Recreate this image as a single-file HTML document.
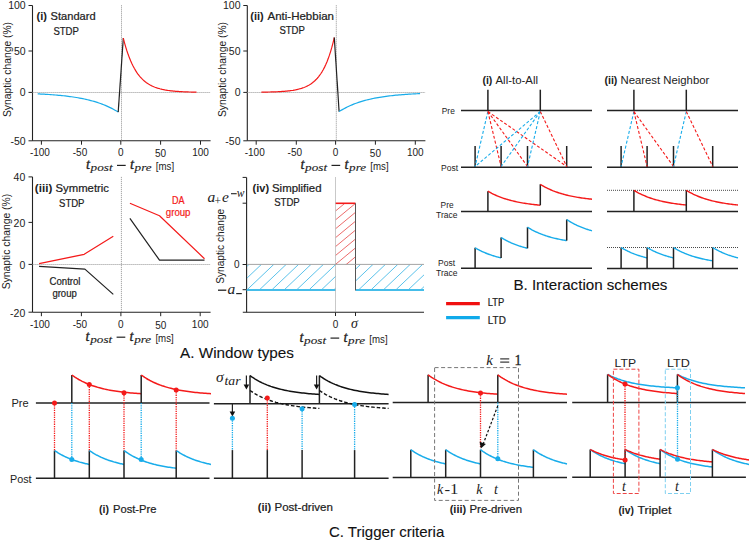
<!DOCTYPE html><html><head><meta charset="utf-8"><style>html,body{margin:0;padding:0;background:#fff;overflow:hidden}svg{display:block}</style></head><body><svg width="749" height="542" viewBox="0 0 749 542"><rect width="749" height="542" fill="#fff"/><line x1="32.50" y1="5.50" x2="32.50" y2="140.80" stroke="#222" stroke-width="1.1" />
<line x1="28.50" y1="5.50" x2="32.50" y2="5.50" stroke="#222" stroke-width="1.0" />
<text x="25.70" y="9.40" font-family='"Liberation Sans", sans-serif' font-size="10.5" font-weight="normal" font-style="normal" text-anchor="end" fill="#222" >100</text>
<line x1="28.50" y1="51.00" x2="32.50" y2="51.00" stroke="#222" stroke-width="1.0" />
<text x="25.70" y="54.90" font-family='"Liberation Sans", sans-serif' font-size="10.5" font-weight="normal" font-style="normal" text-anchor="end" fill="#222" >50</text>
<line x1="28.50" y1="92.40" x2="32.50" y2="92.40" stroke="#222" stroke-width="1.0" />
<text x="25.70" y="96.30" font-family='"Liberation Sans", sans-serif' font-size="10.5" font-weight="normal" font-style="normal" text-anchor="end" fill="#222" >0</text>
<line x1="28.50" y1="140.80" x2="32.50" y2="140.80" stroke="#222" stroke-width="1.0" />
<text x="25.70" y="144.70" font-family='"Liberation Sans", sans-serif' font-size="10.5" font-weight="normal" font-style="normal" text-anchor="end" fill="#222" >-50</text>
<line x1="32.50" y1="140.80" x2="210.60" y2="140.80" stroke="#222" stroke-width="1.1" />
<line x1="41.40" y1="140.80" x2="41.40" y2="144.70" stroke="#222" stroke-width="1.0" />
<text x="39.90" y="156.00" font-family='"Liberation Sans", sans-serif' font-size="10" font-weight="normal" font-style="normal" text-anchor="middle" fill="#222" >-100</text>
<line x1="81.50" y1="140.80" x2="81.50" y2="144.70" stroke="#222" stroke-width="1.0" />
<text x="80.00" y="156.00" font-family='"Liberation Sans", sans-serif' font-size="10" font-weight="normal" font-style="normal" text-anchor="middle" fill="#222" >-50</text>
<line x1="120.80" y1="140.80" x2="120.80" y2="144.70" stroke="#222" stroke-width="1.0" />
<text x="120.80" y="156.00" font-family='"Liberation Sans", sans-serif' font-size="10" font-weight="normal" font-style="normal" text-anchor="middle" fill="#222" >0</text>
<line x1="160.60" y1="140.80" x2="160.60" y2="144.70" stroke="#222" stroke-width="1.0" />
<text x="160.60" y="156.80" font-family='"Liberation Sans", sans-serif' font-size="10" font-weight="normal" font-style="normal" text-anchor="middle" fill="#222" >50</text>
<line x1="200.50" y1="140.80" x2="200.50" y2="144.70" stroke="#222" stroke-width="1.0" />
<text x="200.50" y="156.00" font-family='"Liberation Sans", sans-serif' font-size="10" font-weight="normal" font-style="normal" text-anchor="middle" fill="#222" >100</text>
<line x1="32.50" y1="92.50" x2="210.60" y2="92.50" stroke="#9a9a9a" stroke-width="0.9" stroke-dasharray="1.2,0.8" />
<line x1="121.50" y1="5.20" x2="121.50" y2="140.80" stroke="#9a9a9a" stroke-width="0.9" stroke-dasharray="1.2,0.8" />
<g transform="translate(86.00,169.00)">
<text x="0.00" y="0.00" font-family='"Liberation Serif", serif' font-size="14.5" font-weight="normal" font-style="italic" text-anchor="start" fill="#222" stroke="#222" stroke-width="0.3">t</text>
<text x="4.60" y="2.20" font-family='"Liberation Serif", serif' font-size="11" font-weight="normal" font-style="italic" text-anchor="start" fill="#222" textLength="22" lengthAdjust="spacingAndGlyphs" stroke="#222" stroke-width="0.12">post</text>
<line x1="31.00" y1="-3.60" x2="39.70" y2="-3.60" stroke="#222" stroke-width="1.2" />
<text x="44.00" y="0.00" font-family='"Liberation Serif", serif' font-size="14.5" font-weight="normal" font-style="italic" text-anchor="start" fill="#222" stroke="#222" stroke-width="0.3">t</text>
<text x="48.60" y="2.20" font-family='"Liberation Serif", serif' font-size="11" font-weight="normal" font-style="italic" text-anchor="start" fill="#222" textLength="17" lengthAdjust="spacingAndGlyphs" stroke="#222" stroke-width="0.12">pre</text>
<text x="69.80" y="1.20" font-family='"Liberation Sans", sans-serif' font-size="10" font-weight="normal" font-style="normal" text-anchor="start" fill="#222" textLength="18.3" lengthAdjust="spacingAndGlyphs" >[ms]</text>
</g>
<text x="0" y="0" transform="translate(11.30,69.50) rotate(-90)" font-family='"Liberation Sans", sans-serif' font-size="10" text-anchor="middle" fill="#222" textLength="95" lengthAdjust="spacingAndGlyphs">Synaptic change (%)</text>
<polyline points="37.70,93.87 39.31,93.95 40.92,94.03 42.53,94.12 44.14,94.21 45.75,94.30 47.36,94.40 48.97,94.51 50.58,94.62 52.19,94.74 53.80,94.87 55.41,95.00 57.02,95.14 58.63,95.28 60.24,95.44 61.85,95.60 63.46,95.77 65.07,95.95 66.68,96.14 68.29,96.34 69.90,96.55 71.51,96.77 73.12,97.00 74.73,97.25 76.34,97.51 77.95,97.78 79.56,98.06 81.17,98.37 82.78,98.68 84.39,99.02 86.00,99.37 87.61,99.74 89.22,100.14 90.83,100.55 92.44,100.98 94.05,101.44 95.66,101.92 97.27,102.43 98.88,102.96 100.49,103.53 102.10,104.12 103.71,104.74 105.32,105.40 106.93,106.10 108.54,106.83 110.15,107.59 111.76,108.40 113.37,109.26 114.98,110.16 116.59,111.10 118.20,112.10" fill="none" stroke="#18acea" stroke-width="1.2" stroke-linejoin="round"/>
<line x1="118.20" y1="112.10" x2="123.30" y2="38.00" stroke="#222" stroke-width="1.2" />
<polyline points="123.30,38.10 124.52,42.79 125.74,47.08 126.96,50.99 128.18,54.57 129.40,57.84 130.62,60.83 131.84,63.56 133.06,66.05 134.28,68.32 135.50,70.40 136.72,72.31 137.94,74.04 139.16,75.63 140.38,77.08 141.60,78.40 142.82,79.61 144.04,80.72 145.26,81.73 146.48,82.65 147.70,83.49 148.92,84.26 150.14,84.96 151.36,85.61 152.58,86.19 153.80,86.73 155.02,87.22 156.24,87.67 157.46,88.08 158.68,88.45 159.90,88.79 161.12,89.10 162.34,89.39 163.56,89.65 164.78,89.89 166.00,90.10 167.22,90.30 168.44,90.48 169.66,90.65 170.88,90.80 172.10,90.94 173.32,91.06 174.54,91.18 175.76,91.29 176.98,91.38 178.20,91.47 179.42,91.55 180.64,91.62 181.86,91.69 183.08,91.75 184.30,91.81 185.52,91.86 186.74,91.91 187.96,91.95 189.18,91.99 190.40,92.02 191.62,92.06 192.84,92.09 194.06,92.11 195.28,92.14 196.50,92.16" fill="none" stroke="#f41a1a" stroke-width="1.2" stroke-linejoin="round"/>
<text x="36.50" y="20.00" font-family='"Liberation Sans", sans-serif' font-size="10.5" font-weight="bold" font-style="normal" text-anchor="start" fill="#222" textLength="10.5" lengthAdjust="spacingAndGlyphs" >(i)</text>
<text x="50.60" y="20.00" font-family='"Liberation Sans", sans-serif' font-size="11" font-weight="normal" font-style="normal" text-anchor="start" fill="#222" textLength="45" lengthAdjust="spacingAndGlyphs" stroke="#222" stroke-width="0.22">Standard</text>
<text x="53.40" y="35.00" font-family='"Liberation Sans", sans-serif' font-size="11" font-weight="normal" font-style="normal" text-anchor="start" fill="#222" textLength="25.5" lengthAdjust="spacingAndGlyphs" stroke="#222" stroke-width="0.22">STDP</text>
<line x1="247.30" y1="5.50" x2="247.30" y2="140.80" stroke="#222" stroke-width="1.1" />
<line x1="243.30" y1="5.50" x2="247.30" y2="5.50" stroke="#222" stroke-width="1.0" />
<text x="240.50" y="9.40" font-family='"Liberation Sans", sans-serif' font-size="10.5" font-weight="normal" font-style="normal" text-anchor="end" fill="#222" >100</text>
<line x1="243.30" y1="51.00" x2="247.30" y2="51.00" stroke="#222" stroke-width="1.0" />
<text x="240.50" y="54.90" font-family='"Liberation Sans", sans-serif' font-size="10.5" font-weight="normal" font-style="normal" text-anchor="end" fill="#222" >50</text>
<line x1="243.30" y1="92.40" x2="247.30" y2="92.40" stroke="#222" stroke-width="1.0" />
<text x="240.50" y="96.30" font-family='"Liberation Sans", sans-serif' font-size="10.5" font-weight="normal" font-style="normal" text-anchor="end" fill="#222" >0</text>
<line x1="243.30" y1="140.80" x2="247.30" y2="140.80" stroke="#222" stroke-width="1.0" />
<text x="240.50" y="144.70" font-family='"Liberation Sans", sans-serif' font-size="10.5" font-weight="normal" font-style="normal" text-anchor="end" fill="#222" >-50</text>
<line x1="247.30" y1="140.80" x2="425.40" y2="140.80" stroke="#222" stroke-width="1.1" />
<line x1="256.20" y1="140.80" x2="256.20" y2="144.70" stroke="#222" stroke-width="1.0" />
<text x="254.70" y="156.00" font-family='"Liberation Sans", sans-serif' font-size="10" font-weight="normal" font-style="normal" text-anchor="middle" fill="#222" >-100</text>
<line x1="296.30" y1="140.80" x2="296.30" y2="144.70" stroke="#222" stroke-width="1.0" />
<text x="294.80" y="156.00" font-family='"Liberation Sans", sans-serif' font-size="10" font-weight="normal" font-style="normal" text-anchor="middle" fill="#222" >-50</text>
<line x1="335.60" y1="140.80" x2="335.60" y2="144.70" stroke="#222" stroke-width="1.0" />
<text x="335.60" y="156.00" font-family='"Liberation Sans", sans-serif' font-size="10" font-weight="normal" font-style="normal" text-anchor="middle" fill="#222" >0</text>
<line x1="375.40" y1="140.80" x2="375.40" y2="144.70" stroke="#222" stroke-width="1.0" />
<text x="375.40" y="156.80" font-family='"Liberation Sans", sans-serif' font-size="10" font-weight="normal" font-style="normal" text-anchor="middle" fill="#222" >50</text>
<line x1="415.30" y1="140.80" x2="415.30" y2="144.70" stroke="#222" stroke-width="1.0" />
<text x="415.30" y="156.00" font-family='"Liberation Sans", sans-serif' font-size="10" font-weight="normal" font-style="normal" text-anchor="middle" fill="#222" >100</text>
<line x1="247.30" y1="92.50" x2="425.40" y2="92.50" stroke="#9a9a9a" stroke-width="0.9" stroke-dasharray="1.2,0.8" />
<line x1="336.30" y1="5.20" x2="336.30" y2="140.80" stroke="#9a9a9a" stroke-width="0.9" stroke-dasharray="1.2,0.8" />
<g transform="translate(300.50,169.00)">
<text x="0.00" y="0.00" font-family='"Liberation Serif", serif' font-size="14.5" font-weight="normal" font-style="italic" text-anchor="start" fill="#222" stroke="#222" stroke-width="0.3">t</text>
<text x="4.60" y="2.20" font-family='"Liberation Serif", serif' font-size="11" font-weight="normal" font-style="italic" text-anchor="start" fill="#222" textLength="22" lengthAdjust="spacingAndGlyphs" stroke="#222" stroke-width="0.12">post</text>
<line x1="31.00" y1="-3.60" x2="39.70" y2="-3.60" stroke="#222" stroke-width="1.2" />
<text x="44.00" y="0.00" font-family='"Liberation Serif", serif' font-size="14.5" font-weight="normal" font-style="italic" text-anchor="start" fill="#222" stroke="#222" stroke-width="0.3">t</text>
<text x="48.60" y="2.20" font-family='"Liberation Serif", serif' font-size="11" font-weight="normal" font-style="italic" text-anchor="start" fill="#222" textLength="17" lengthAdjust="spacingAndGlyphs" stroke="#222" stroke-width="0.12">pre</text>
<text x="69.80" y="1.20" font-family='"Liberation Sans", sans-serif' font-size="10" font-weight="normal" font-style="normal" text-anchor="start" fill="#222" textLength="18.3" lengthAdjust="spacingAndGlyphs" >[ms]</text>
</g>
<text x="0" y="0" transform="translate(226.10,69.50) rotate(-90)" font-family='"Liberation Sans", sans-serif' font-size="10" text-anchor="middle" fill="#222" textLength="95" lengthAdjust="spacingAndGlyphs">Synaptic change (%)</text>
<polyline points="261.40,92.14 262.61,92.12 263.83,92.10 265.04,92.08 266.26,92.06 267.47,92.04 268.69,92.01 269.90,91.98 271.12,91.95 272.33,91.91 273.55,91.88 274.76,91.83 275.98,91.78 277.19,91.73 278.41,91.67 279.62,91.61 280.84,91.54 282.06,91.46 283.27,91.38 284.49,91.28 285.70,91.18 286.91,91.06 288.13,90.94 289.34,90.80 290.56,90.64 291.77,90.47 292.99,90.29 294.20,90.08 295.42,89.86 296.63,89.61 297.85,89.33 299.06,89.03 300.28,88.70 301.50,88.33 302.71,87.92 303.93,87.48 305.14,86.98 306.36,86.44 307.57,85.84 308.78,85.18 310.00,84.46 311.22,83.66 312.43,82.77 313.64,81.80 314.86,80.73 316.07,79.55 317.29,78.25 318.50,76.81 319.72,75.23 320.94,73.49 322.15,71.57 323.37,69.45 324.58,67.12 325.80,64.55 327.01,61.72 328.23,58.59 329.44,55.15 330.66,51.36 331.87,47.18 333.09,42.58 334.30,37.50" fill="none" stroke="#f41a1a" stroke-width="1.2" stroke-linejoin="round"/>
<line x1="334.30" y1="37.50" x2="339.10" y2="111.60" stroke="#222" stroke-width="1.2" />
<polyline points="339.10,111.60 340.72,110.59 342.34,109.62 343.96,108.71 345.58,107.85 347.20,107.03 348.82,106.26 350.44,105.52 352.06,104.83 353.68,104.17 355.30,103.55 356.92,102.96 358.54,102.40 360.16,101.86 361.78,101.36 363.40,100.89 365.02,100.43 366.64,100.01 368.26,99.60 369.88,99.22 371.50,98.85 373.12,98.51 374.74,98.18 376.36,97.87 377.98,97.58 379.60,97.30 381.22,97.04 382.84,96.79 384.46,96.56 386.08,96.33 387.70,96.12 389.32,95.92 390.94,95.73 392.56,95.55 394.18,95.38 395.80,95.22 397.42,95.06 399.04,94.92 400.66,94.78 402.28,94.65 403.90,94.53 405.52,94.41 407.14,94.30 408.76,94.19 410.38,94.09 412.00,94.00 413.62,93.91 415.24,93.83 416.86,93.74 418.48,93.67 420.10,93.60" fill="none" stroke="#18acea" stroke-width="1.2" stroke-linejoin="round"/>
<text x="250.30" y="20.00" font-family='"Liberation Sans", sans-serif' font-size="10.5" font-weight="bold" font-style="normal" text-anchor="start" fill="#222" textLength="13.5" lengthAdjust="spacingAndGlyphs" >(ii)</text>
<text x="267.50" y="20.00" font-family='"Liberation Sans", sans-serif' font-size="11" font-weight="normal" font-style="normal" text-anchor="start" fill="#222" textLength="66.5" lengthAdjust="spacingAndGlyphs" stroke="#222" stroke-width="0.22">Anti-Hebbian</text>
<text x="279.40" y="33.80" font-family='"Liberation Sans", sans-serif' font-size="11" font-weight="normal" font-style="normal" text-anchor="start" fill="#222" textLength="25.5" lengthAdjust="spacingAndGlyphs" stroke="#222" stroke-width="0.22">STDP</text>
<line x1="32.50" y1="176.90" x2="32.50" y2="312.20" stroke="#222" stroke-width="1.1" />
<line x1="28.50" y1="176.90" x2="32.50" y2="176.90" stroke="#222" stroke-width="1.0" />
<text x="25.30" y="181.20" font-family='"Liberation Sans", sans-serif' font-size="10.5" font-weight="normal" font-style="normal" text-anchor="end" fill="#222" >40</text>
<line x1="28.50" y1="222.40" x2="32.50" y2="222.40" stroke="#222" stroke-width="1.0" />
<text x="25.30" y="226.70" font-family='"Liberation Sans", sans-serif' font-size="10.5" font-weight="normal" font-style="normal" text-anchor="end" fill="#222" >20</text>
<line x1="28.50" y1="264.40" x2="32.50" y2="264.40" stroke="#222" stroke-width="1.0" />
<text x="25.30" y="268.70" font-family='"Liberation Sans", sans-serif' font-size="10.5" font-weight="normal" font-style="normal" text-anchor="end" fill="#222" >0</text>
<line x1="28.50" y1="312.20" x2="32.50" y2="312.20" stroke="#222" stroke-width="1.0" />
<text x="25.30" y="316.50" font-family='"Liberation Sans", sans-serif' font-size="10.5" font-weight="normal" font-style="normal" text-anchor="end" fill="#222" >-20</text>
<line x1="32.50" y1="312.20" x2="210.60" y2="312.20" stroke="#222" stroke-width="1.1" />
<line x1="41.40" y1="312.20" x2="41.40" y2="316.20" stroke="#222" stroke-width="1.0" />
<text x="39.90" y="328.00" font-family='"Liberation Sans", sans-serif' font-size="10" font-weight="normal" font-style="normal" text-anchor="middle" fill="#222" >-100</text>
<line x1="81.40" y1="312.20" x2="81.40" y2="316.20" stroke="#222" stroke-width="1.0" />
<text x="79.90" y="328.00" font-family='"Liberation Sans", sans-serif' font-size="10" font-weight="normal" font-style="normal" text-anchor="middle" fill="#222" >-50</text>
<line x1="120.90" y1="312.20" x2="120.90" y2="316.20" stroke="#222" stroke-width="1.0" />
<text x="120.90" y="328.00" font-family='"Liberation Sans", sans-serif' font-size="10" font-weight="normal" font-style="normal" text-anchor="middle" fill="#222" >0</text>
<line x1="160.70" y1="312.20" x2="160.70" y2="316.20" stroke="#222" stroke-width="1.0" />
<text x="160.70" y="328.80" font-family='"Liberation Sans", sans-serif' font-size="10" font-weight="normal" font-style="normal" text-anchor="middle" fill="#222" >50</text>
<line x1="200.20" y1="312.20" x2="200.20" y2="316.20" stroke="#222" stroke-width="1.0" />
<text x="200.20" y="328.00" font-family='"Liberation Sans", sans-serif' font-size="10" font-weight="normal" font-style="normal" text-anchor="middle" fill="#222" >100</text>
<line x1="32.50" y1="264.50" x2="210.60" y2="264.50" stroke="#9a9a9a" stroke-width="0.9" stroke-dasharray="1.2,0.8" />
<line x1="121.40" y1="176.90" x2="121.40" y2="312.20" stroke="#9a9a9a" stroke-width="0.9" stroke-dasharray="1.2,0.8" />
<g transform="translate(85.60,340.80)">
<text x="0.00" y="0.00" font-family='"Liberation Serif", serif' font-size="14.5" font-weight="normal" font-style="italic" text-anchor="start" fill="#222" stroke="#222" stroke-width="0.3">t</text>
<text x="4.60" y="2.20" font-family='"Liberation Serif", serif' font-size="11" font-weight="normal" font-style="italic" text-anchor="start" fill="#222" textLength="22" lengthAdjust="spacingAndGlyphs" stroke="#222" stroke-width="0.12">post</text>
<line x1="31.00" y1="-3.60" x2="39.70" y2="-3.60" stroke="#222" stroke-width="1.2" />
<text x="44.00" y="0.00" font-family='"Liberation Serif", serif' font-size="14.5" font-weight="normal" font-style="italic" text-anchor="start" fill="#222" stroke="#222" stroke-width="0.3">t</text>
<text x="48.60" y="2.20" font-family='"Liberation Serif", serif' font-size="11" font-weight="normal" font-style="italic" text-anchor="start" fill="#222" textLength="17" lengthAdjust="spacingAndGlyphs" stroke="#222" stroke-width="0.12">pre</text>
<text x="69.80" y="1.20" font-family='"Liberation Sans", sans-serif' font-size="10" font-weight="normal" font-style="normal" text-anchor="start" fill="#222" textLength="18.3" lengthAdjust="spacingAndGlyphs" >[ms]</text>
</g>
<text x="0" y="0" transform="translate(9.80,241.60) rotate(-90)" font-family='"Liberation Sans", sans-serif' font-size="10" text-anchor="middle" fill="#222" textLength="95.5" lengthAdjust="spacingAndGlyphs">Synaptic change (%)</text>
<polyline points="39.10,263.60 84.20,254.30 113.30,236.20" fill="none" stroke="#f41a1a" stroke-width="1.2" stroke-linejoin="round"/>
<polyline points="39.10,266.30 84.90,269.10 113.30,294.40" fill="none" stroke="#222" stroke-width="1.2" stroke-linejoin="round"/>
<polyline points="129.90,203.30 159.50,215.80 204.50,258.70" fill="none" stroke="#f41a1a" stroke-width="1.2" stroke-linejoin="round"/>
<polyline points="129.90,218.40 159.50,260.20 204.50,260.20" fill="none" stroke="#222" stroke-width="1.2" stroke-linejoin="round"/>
<text x="34.80" y="191.50" font-family='"Liberation Sans", sans-serif' font-size="10.5" font-weight="bold" font-style="normal" text-anchor="start" fill="#222" textLength="17.5" lengthAdjust="spacingAndGlyphs" >(iii)</text>
<text x="55.50" y="191.50" font-family='"Liberation Sans", sans-serif' font-size="11" font-weight="normal" font-style="normal" text-anchor="start" fill="#222" textLength="53.5" lengthAdjust="spacingAndGlyphs" stroke="#222" stroke-width="0.22">Symmetric</text>
<text x="59.00" y="206.50" font-family='"Liberation Sans", sans-serif' font-size="11" font-weight="normal" font-style="normal" text-anchor="start" fill="#222" textLength="25.5" lengthAdjust="spacingAndGlyphs" stroke="#222" stroke-width="0.22">STDP</text>
<text x="172.00" y="203.80" font-family='"Liberation Sans", sans-serif' font-size="10.5" font-weight="normal" font-style="normal" text-anchor="start" fill="#f41a1a" textLength="12.5" lengthAdjust="spacingAndGlyphs" stroke="#f41a1a" stroke-width="0.22">DA</text>
<text x="165.80" y="216.30" font-family='"Liberation Sans", sans-serif' font-size="10.5" font-weight="normal" font-style="normal" text-anchor="start" fill="#f41a1a" textLength="24.7" lengthAdjust="spacingAndGlyphs" stroke="#f41a1a" stroke-width="0.22">group</text>
<text x="49.50" y="285.00" font-family='"Liberation Sans", sans-serif' font-size="10.5" font-weight="normal" font-style="normal" text-anchor="start" fill="#222" textLength="31" lengthAdjust="spacingAndGlyphs" stroke="#222" stroke-width="0.22">Control</text>
<text x="52.40" y="296.80" font-family='"Liberation Sans", sans-serif' font-size="10.5" font-weight="normal" font-style="normal" text-anchor="start" fill="#222" textLength="24.4" lengthAdjust="spacingAndGlyphs" stroke="#222" stroke-width="0.22">group</text>
<line x1="246.60" y1="177.40" x2="246.60" y2="312.20" stroke="#222" stroke-width="1.1" />
<line x1="242.60" y1="177.40" x2="246.60" y2="177.40" stroke="#222" stroke-width="1.0" />
<line x1="242.60" y1="203.20" x2="246.60" y2="203.20" stroke="#222" stroke-width="1.0" />
<line x1="242.60" y1="264.50" x2="246.60" y2="264.50" stroke="#222" stroke-width="1.0" />
<line x1="242.60" y1="289.70" x2="246.60" y2="289.70" stroke="#222" stroke-width="1.0" />
<line x1="242.80" y1="312.20" x2="424.00" y2="312.20" stroke="#222" stroke-width="1.1" />
<line x1="335.50" y1="312.20" x2="335.50" y2="316.00" stroke="#222" stroke-width="1.0" />
<line x1="355.50" y1="312.20" x2="355.50" y2="316.00" stroke="#222" stroke-width="1.0" />
<text x="335.50" y="328.20" font-family='"Liberation Sans", sans-serif' font-size="10" font-weight="normal" font-style="normal" text-anchor="middle" fill="#222" >0</text>
<text x="354.50" y="327.60" font-family='"Liberation Serif", serif' font-size="14" font-weight="normal" font-style="italic" text-anchor="middle" fill="#222" >σ</text>
<g transform="translate(299.50,341.70)">
<text x="0.00" y="0.00" font-family='"Liberation Serif", serif' font-size="14.5" font-weight="normal" font-style="italic" text-anchor="start" fill="#222" stroke="#222" stroke-width="0.3">t</text>
<text x="4.60" y="2.20" font-family='"Liberation Serif", serif' font-size="11" font-weight="normal" font-style="italic" text-anchor="start" fill="#222" textLength="22" lengthAdjust="spacingAndGlyphs" stroke="#222" stroke-width="0.12">post</text>
<line x1="31.00" y1="-3.60" x2="39.70" y2="-3.60" stroke="#222" stroke-width="1.2" />
<text x="44.00" y="0.00" font-family='"Liberation Serif", serif' font-size="14.5" font-weight="normal" font-style="italic" text-anchor="start" fill="#222" stroke="#222" stroke-width="0.3">t</text>
<text x="48.60" y="2.20" font-family='"Liberation Serif", serif' font-size="11" font-weight="normal" font-style="italic" text-anchor="start" fill="#222" textLength="17" lengthAdjust="spacingAndGlyphs" stroke="#222" stroke-width="0.12">pre</text>
<text x="69.80" y="1.20" font-family='"Liberation Sans", sans-serif' font-size="10" font-weight="normal" font-style="normal" text-anchor="start" fill="#222" textLength="18.3" lengthAdjust="spacingAndGlyphs" >[ms]</text>
</g>
<text x="0" y="0" transform="translate(224.30,246.30) rotate(-90)" font-family='"Liberation Sans", sans-serif' font-size="10" text-anchor="middle" fill="#222" textLength="75" lengthAdjust="spacingAndGlyphs">Synaptic change</text>
<text x="239.50" y="268.00" font-family='"Liberation Sans", sans-serif' font-size="10" font-weight="normal" font-style="normal" text-anchor="end" fill="#222" >0</text>
<text x="207.60" y="201.70" font-family='"Liberation Serif", serif' font-size="15.5" font-weight="normal" font-style="italic" text-anchor="start" fill="#222" >a</text>
<text x="214.60" y="204.60" font-family='"Liberation Serif", serif' font-size="11.5" font-weight="normal" font-style="normal" text-anchor="start" fill="#222" >+</text>
<text x="222.00" y="201.70" font-family='"Liberation Serif", serif' font-size="15.5" font-weight="normal" font-style="italic" text-anchor="start" fill="#222" >e</text>
<line x1="231.00" y1="193.70" x2="236.70" y2="193.70" stroke="#222" stroke-width="1.1" />
<text x="236.80" y="196.70" font-family='"Liberation Serif", serif' font-size="11.5" font-weight="normal" font-style="italic" text-anchor="start" fill="#222" >w</text>
<line x1="218.00" y1="290.20" x2="226.30" y2="290.20" stroke="#222" stroke-width="1.3" />
<text x="227.60" y="293.80" font-family='"Liberation Serif", serif' font-size="15.5" font-weight="normal" font-style="italic" text-anchor="start" fill="#222" >a</text>
<line x1="236.20" y1="293.60" x2="241.80" y2="293.60" stroke="#222" stroke-width="1.2" />
<defs><clipPath id="cb"><rect x="247.1" y="264.4" width="88.4" height="25.3"/><rect x="355.5" y="264.4" width="68.5" height="25.3"/></clipPath><clipPath id="cr"><rect x="335.5" y="203.3" width="20" height="61.1"/></clipPath></defs>
<g clip-path="url(#cb)">
<line x1="210.20" y1="289.50" x2="236.60" y2="264.40" stroke="#48bbe8" stroke-width="0.9" />
<line x1="222.60" y1="289.50" x2="249.00" y2="264.40" stroke="#48bbe8" stroke-width="0.9" />
<line x1="235.00" y1="289.50" x2="261.40" y2="264.40" stroke="#48bbe8" stroke-width="0.9" />
<line x1="247.40" y1="289.50" x2="273.80" y2="264.40" stroke="#48bbe8" stroke-width="0.9" />
<line x1="259.80" y1="289.50" x2="286.20" y2="264.40" stroke="#48bbe8" stroke-width="0.9" />
<line x1="272.20" y1="289.50" x2="298.60" y2="264.40" stroke="#48bbe8" stroke-width="0.9" />
<line x1="284.60" y1="289.50" x2="311.00" y2="264.40" stroke="#48bbe8" stroke-width="0.9" />
<line x1="297.00" y1="289.50" x2="323.40" y2="264.40" stroke="#48bbe8" stroke-width="0.9" />
<line x1="309.40" y1="289.50" x2="335.80" y2="264.40" stroke="#48bbe8" stroke-width="0.9" />
<line x1="321.80" y1="289.50" x2="348.20" y2="264.40" stroke="#48bbe8" stroke-width="0.9" />
<line x1="334.20" y1="289.50" x2="360.60" y2="264.40" stroke="#48bbe8" stroke-width="0.9" />
<line x1="346.60" y1="289.50" x2="373.00" y2="264.40" stroke="#48bbe8" stroke-width="0.9" />
<line x1="359.00" y1="289.50" x2="385.40" y2="264.40" stroke="#48bbe8" stroke-width="0.9" />
<line x1="371.40" y1="289.50" x2="397.80" y2="264.40" stroke="#48bbe8" stroke-width="0.9" />
<line x1="383.80" y1="289.50" x2="410.20" y2="264.40" stroke="#48bbe8" stroke-width="0.9" />
<line x1="396.20" y1="289.50" x2="422.60" y2="264.40" stroke="#48bbe8" stroke-width="0.9" />
<line x1="408.60" y1="289.50" x2="435.00" y2="264.40" stroke="#48bbe8" stroke-width="0.9" />
<line x1="421.00" y1="289.50" x2="447.40" y2="264.40" stroke="#48bbe8" stroke-width="0.9" />
<line x1="433.40" y1="289.50" x2="459.80" y2="264.40" stroke="#48bbe8" stroke-width="0.9" />
</g>
<g clip-path="url(#cr)">
<line x1="335.50" y1="193.20" x2="355.50" y2="176.70" stroke="#ea5a5a" stroke-width="0.9" />
<line x1="335.50" y1="202.10" x2="355.50" y2="185.60" stroke="#ea5a5a" stroke-width="0.9" />
<line x1="335.50" y1="211.00" x2="355.50" y2="194.50" stroke="#ea5a5a" stroke-width="0.9" />
<line x1="335.50" y1="219.90" x2="355.50" y2="203.40" stroke="#ea5a5a" stroke-width="0.9" />
<line x1="335.50" y1="228.80" x2="355.50" y2="212.30" stroke="#ea5a5a" stroke-width="0.9" />
<line x1="335.50" y1="237.70" x2="355.50" y2="221.20" stroke="#ea5a5a" stroke-width="0.9" />
<line x1="335.50" y1="246.60" x2="355.50" y2="230.10" stroke="#ea5a5a" stroke-width="0.9" />
<line x1="335.50" y1="255.50" x2="355.50" y2="239.00" stroke="#ea5a5a" stroke-width="0.9" />
<line x1="335.50" y1="264.40" x2="355.50" y2="247.90" stroke="#ea5a5a" stroke-width="0.9" />
<line x1="335.50" y1="273.30" x2="355.50" y2="256.80" stroke="#ea5a5a" stroke-width="0.9" />
<line x1="335.50" y1="282.20" x2="355.50" y2="265.70" stroke="#ea5a5a" stroke-width="0.9" />
</g>
<line x1="246.60" y1="290.00" x2="335.50" y2="290.00" stroke="#45bde9" stroke-width="2.0" />
<line x1="355.50" y1="290.00" x2="424.00" y2="290.00" stroke="#45bde9" stroke-width="2.0" />
<line x1="335.50" y1="203.30" x2="355.50" y2="203.30" stroke="#f41a1a" stroke-width="1.6" />
<line x1="355.50" y1="203.30" x2="355.50" y2="290.40" stroke="#555" stroke-width="1.0" />
<line x1="247.10" y1="264.40" x2="424.00" y2="264.40" stroke="#9a9a9a" stroke-width="0.9" />
<line x1="335.50" y1="177.40" x2="335.50" y2="312.20" stroke="#9a9a9a" stroke-width="0.9" stroke-dasharray="1.2,0.8" />
<text x="252.60" y="191.80" font-family='"Liberation Sans", sans-serif' font-size="10.5" font-weight="bold" font-style="normal" text-anchor="start" fill="#222" textLength="16.5" lengthAdjust="spacingAndGlyphs" >(iv)</text>
<text x="272.00" y="191.80" font-family='"Liberation Sans", sans-serif' font-size="11" font-weight="normal" font-style="normal" text-anchor="start" fill="#222" textLength="49.5" lengthAdjust="spacingAndGlyphs" stroke="#222" stroke-width="0.22">Simplified</text>
<text x="274.20" y="206.00" font-family='"Liberation Sans", sans-serif' font-size="11" font-weight="normal" font-style="normal" text-anchor="start" fill="#222" textLength="25.5" lengthAdjust="spacingAndGlyphs" stroke="#222" stroke-width="0.22">STDP</text>
<text x="180.00" y="357.70" font-family='"Liberation Sans", sans-serif' font-size="15" font-weight="normal" font-style="normal" text-anchor="start" fill="#111" textLength="114" lengthAdjust="spacingAndGlyphs" stroke="#111" stroke-width="0.1">A. Window types</text>
<line x1="461.00" y1="110.60" x2="592.00" y2="110.60" stroke="#222" stroke-width="1.5" />
<line x1="487.90" y1="89.70" x2="487.90" y2="110.60" stroke="#222" stroke-width="1.5" />
<line x1="540.30" y1="89.70" x2="540.30" y2="110.60" stroke="#222" stroke-width="1.5" />
<line x1="461.00" y1="167.30" x2="592.00" y2="167.30" stroke="#222" stroke-width="1.5" />
<line x1="475.10" y1="146.00" x2="475.10" y2="167.30" stroke="#222" stroke-width="1.5" />
<line x1="501.10" y1="146.00" x2="501.10" y2="167.30" stroke="#222" stroke-width="1.5" />
<line x1="527.50" y1="146.00" x2="527.50" y2="167.30" stroke="#222" stroke-width="1.5" />
<line x1="566.70" y1="146.00" x2="566.70" y2="167.30" stroke="#222" stroke-width="1.5" />
<line x1="487.90" y1="111.50" x2="475.10" y2="166.50" stroke="#18acea" stroke-width="1.1" stroke-dasharray="3,2" />
<line x1="487.90" y1="111.50" x2="501.10" y2="166.50" stroke="#f41a1a" stroke-width="1.1" stroke-dasharray="3,2" />
<line x1="487.90" y1="111.50" x2="527.50" y2="166.50" stroke="#f41a1a" stroke-width="1.1" stroke-dasharray="3,2" />
<line x1="487.90" y1="111.50" x2="566.70" y2="166.50" stroke="#f41a1a" stroke-width="1.1" stroke-dasharray="3,2" />
<line x1="540.30" y1="111.50" x2="475.10" y2="166.50" stroke="#18acea" stroke-width="1.1" stroke-dasharray="3,2" />
<line x1="540.30" y1="111.50" x2="501.10" y2="166.50" stroke="#18acea" stroke-width="1.1" stroke-dasharray="3,2" />
<line x1="540.30" y1="111.50" x2="527.50" y2="166.50" stroke="#18acea" stroke-width="1.1" stroke-dasharray="3,2" />
<line x1="540.30" y1="111.50" x2="566.70" y2="166.50" stroke="#f41a1a" stroke-width="1.1" stroke-dasharray="3,2" />
<line x1="461.00" y1="211.40" x2="592.00" y2="211.40" stroke="#222" stroke-width="1.5" />
<line x1="487.90" y1="211.40" x2="487.90" y2="191.20" stroke="#222" stroke-width="1.5" />
<polyline points="487.90,191.20 489.21,191.96 490.52,192.68 491.83,193.37 493.14,194.02 494.45,194.65 495.76,195.25 497.07,195.82 498.38,196.37 499.69,196.89 501.00,197.38 502.31,197.86 503.62,198.31 504.93,198.74 506.24,199.15 507.55,199.54 508.86,199.92 510.17,200.28 511.48,200.62 512.79,200.94 514.10,201.26 515.41,201.55 516.72,201.84 518.03,202.11 519.34,202.36 520.65,202.61 521.96,202.84 523.27,203.07 524.58,203.28 525.89,203.49 527.20,203.68 528.51,203.87 529.82,204.04 531.13,204.21 532.44,204.37 533.75,204.53 535.06,204.68 536.37,204.82 537.68,204.95 538.99,205.08 540.30,205.20" fill="none" stroke="#f41a1a" stroke-width="1.4" stroke-linejoin="round"/>
<line x1="540.30" y1="205.20" x2="540.30" y2="184.30" stroke="#222" stroke-width="1.5" />
<polyline points="540.30,184.30 541.59,185.10 542.88,185.86 544.18,186.59 545.47,187.28 546.76,187.95 548.05,188.58 549.35,189.18 550.64,189.76 551.93,190.31 553.22,190.84 554.52,191.34 555.81,191.82 557.10,192.28 558.39,192.72 559.69,193.14 560.98,193.54 562.27,193.92 563.56,194.28 564.86,194.63 566.15,194.96 567.44,195.28 568.74,195.58 570.03,195.87 571.32,196.15 572.61,196.41 573.90,196.66 575.20,196.90 576.49,197.13 577.78,197.35 579.08,197.56 580.37,197.76 581.66,197.95 582.95,198.14 584.25,198.31 585.54,198.48 586.83,198.63 588.12,198.79 589.41,198.93 590.71,199.07 592.00,199.20" fill="none" stroke="#f41a1a" stroke-width="1.4" stroke-linejoin="round"/>
<line x1="461.00" y1="268.20" x2="592.00" y2="268.20" stroke="#222" stroke-width="1.5" />
<line x1="475.10" y1="268.20" x2="475.10" y2="247.80" stroke="#222" stroke-width="1.5" />
<polyline points="475.10,247.80 475.75,248.18 476.40,248.56 477.05,248.92 477.70,249.28 478.35,249.63 479.00,249.97 479.65,250.30 480.30,250.63 480.95,250.95 481.60,251.26 482.25,251.56 482.90,251.86 483.55,252.15 484.20,252.43 484.85,252.71 485.50,252.98 486.15,253.24 486.80,253.50 487.45,253.76 488.10,254.00 488.75,254.24 489.40,254.48 490.05,254.71 490.70,254.93 491.35,255.15 492.00,255.37 492.65,255.58 493.30,255.78 493.95,255.98 494.60,256.18 495.25,256.37 495.90,256.55 496.55,256.74 497.20,256.91 497.85,257.09 498.50,257.26 499.15,257.42 499.80,257.59 500.45,257.75 501.10,257.90" fill="none" stroke="#18acea" stroke-width="1.4" stroke-linejoin="round"/>
<line x1="501.10" y1="257.90" x2="501.10" y2="237.50" stroke="#222" stroke-width="1.5" />
<polyline points="501.10,237.50 501.76,237.91 502.42,238.31 503.08,238.71 503.74,239.09 504.40,239.47 505.06,239.83 505.72,240.19 506.38,240.54 507.04,240.88 507.70,241.21 508.36,241.54 509.02,241.86 509.68,242.17 510.34,242.47 511.00,242.77 511.66,243.06 512.32,243.34 512.98,243.62 513.64,243.89 514.30,244.15 514.96,244.41 515.62,244.66 516.28,244.90 516.94,245.14 517.60,245.38 518.26,245.61 518.92,245.83 519.58,246.05 520.24,246.26 520.90,246.47 521.56,246.67 522.22,246.87 522.88,247.06 523.54,247.25 524.20,247.44 524.86,247.62 525.52,247.80 526.18,247.97 526.84,248.14 527.50,248.30" fill="none" stroke="#18acea" stroke-width="1.4" stroke-linejoin="round"/>
<line x1="527.50" y1="248.30" x2="527.50" y2="227.20" stroke="#222" stroke-width="1.5" />
<polyline points="527.50,227.20 528.48,227.81 529.46,228.40 530.44,228.97 531.42,229.52 532.40,230.06 533.38,230.57 534.36,231.06 535.34,231.54 536.32,232.01 537.30,232.45 538.28,232.88 539.26,233.30 540.24,233.70 541.22,234.09 542.20,234.46 543.18,234.83 544.16,235.18 545.14,235.51 546.12,235.84 547.10,236.15 548.08,236.46 549.06,236.75 550.04,237.03 551.02,237.31 552.00,237.57 552.98,237.83 553.96,238.07 554.94,238.31 555.92,238.54 556.90,238.76 557.88,238.98 558.86,239.18 559.84,239.38 560.82,239.58 561.80,239.76 562.78,239.94 563.76,240.11 564.74,240.28 565.72,240.44 566.70,240.60" fill="none" stroke="#18acea" stroke-width="1.4" stroke-linejoin="round"/>
<line x1="566.70" y1="240.60" x2="566.70" y2="219.50" stroke="#222" stroke-width="1.5" />
<polyline points="566.70,219.50 567.33,219.92 567.97,220.34 568.60,220.74 569.23,221.14 569.86,221.53 570.50,221.91 571.13,222.28 571.76,222.64 572.39,222.99 573.03,223.34 573.66,223.68 574.29,224.01 574.92,224.33 575.56,224.65 576.19,224.96 576.82,225.26 577.45,225.56 578.09,225.85 578.72,226.13 579.35,226.41 579.98,226.68 580.62,226.94 581.25,227.20 581.88,227.45 582.51,227.70 583.14,227.94 583.78,228.17 584.41,228.40 585.04,228.63 585.67,228.85 586.31,229.07 586.94,229.28 587.57,229.48 588.21,229.68 588.84,229.88 589.47,230.07 590.10,230.26 590.74,230.44 591.37,230.62 592.00,230.80" fill="none" stroke="#18acea" stroke-width="1.4" stroke-linejoin="round"/>
<line x1="607.00" y1="110.60" x2="738.00" y2="110.60" stroke="#222" stroke-width="1.5" />
<line x1="633.90" y1="89.70" x2="633.90" y2="110.60" stroke="#222" stroke-width="1.5" />
<line x1="686.30" y1="89.70" x2="686.30" y2="110.60" stroke="#222" stroke-width="1.5" />
<line x1="607.00" y1="167.30" x2="738.00" y2="167.30" stroke="#222" stroke-width="1.5" />
<line x1="621.10" y1="146.00" x2="621.10" y2="167.30" stroke="#222" stroke-width="1.5" />
<line x1="647.10" y1="146.00" x2="647.10" y2="167.30" stroke="#222" stroke-width="1.5" />
<line x1="673.50" y1="146.00" x2="673.50" y2="167.30" stroke="#222" stroke-width="1.5" />
<line x1="712.70" y1="146.00" x2="712.70" y2="167.30" stroke="#222" stroke-width="1.5" />
<line x1="633.90" y1="111.50" x2="621.10" y2="166.50" stroke="#18acea" stroke-width="1.1" stroke-dasharray="3,2" />
<line x1="633.90" y1="111.50" x2="647.10" y2="166.50" stroke="#f41a1a" stroke-width="1.1" stroke-dasharray="3,2" />
<line x1="633.90" y1="111.50" x2="673.50" y2="166.50" stroke="#f41a1a" stroke-width="1.1" stroke-dasharray="3,2" />
<line x1="686.30" y1="111.50" x2="673.50" y2="166.50" stroke="#18acea" stroke-width="1.1" stroke-dasharray="3,2" />
<line x1="686.30" y1="111.50" x2="712.70" y2="166.50" stroke="#f41a1a" stroke-width="1.1" stroke-dasharray="3,2" />
<line x1="607.00" y1="211.40" x2="738.00" y2="211.40" stroke="#222" stroke-width="1.5" />
<line x1="607.00" y1="190.30" x2="738.00" y2="190.30" stroke="#333" stroke-width="0.9" stroke-dasharray="1,1" />
<line x1="633.90" y1="211.40" x2="633.90" y2="190.30" stroke="#222" stroke-width="1.5" />
<polyline points="633.90,190.30 635.21,191.09 636.52,191.85 637.83,192.58 639.14,193.27 640.45,193.92 641.76,194.55 643.07,195.15 644.38,195.72 645.69,196.27 647.00,196.79 648.31,197.29 649.62,197.76 650.93,198.22 652.24,198.65 653.55,199.06 654.86,199.46 656.17,199.83 657.48,200.19 658.79,200.53 660.10,200.86 661.41,201.17 662.72,201.47 664.03,201.75 665.34,202.02 666.65,202.28 667.96,202.53 669.27,202.76 670.58,202.99 671.89,203.20 673.20,203.40 674.51,203.60 675.82,203.79 677.13,203.96 678.44,204.13 679.75,204.30 681.06,204.45 682.37,204.60 683.68,204.74 684.99,204.87 686.30,205.00" fill="none" stroke="#f41a1a" stroke-width="1.4" stroke-linejoin="round"/>
<line x1="686.30" y1="211.40" x2="686.30" y2="190.30" stroke="#222" stroke-width="1.5" />
<polyline points="686.30,190.30 687.59,191.09 688.88,191.84 690.18,192.56 691.47,193.24 692.76,193.90 694.05,194.52 695.35,195.12 696.64,195.69 697.93,196.23 699.22,196.75 700.52,197.25 701.81,197.72 703.10,198.18 704.39,198.61 705.69,199.02 706.98,199.41 708.27,199.79 709.56,200.15 710.86,200.49 712.15,200.82 713.44,201.13 714.74,201.43 716.03,201.72 717.32,201.99 718.61,202.25 719.90,202.50 721.20,202.74 722.49,202.96 723.78,203.18 725.08,203.38 726.37,203.58 727.66,203.77 728.95,203.95 730.25,204.12 731.54,204.28 732.83,204.44 734.12,204.59 735.41,204.73 736.71,204.87 738.00,205.00" fill="none" stroke="#f41a1a" stroke-width="1.4" stroke-linejoin="round"/>
<line x1="607.00" y1="268.40" x2="738.00" y2="268.40" stroke="#222" stroke-width="1.5" />
<line x1="607.00" y1="247.50" x2="738.00" y2="247.50" stroke="#333" stroke-width="0.9" stroke-dasharray="1,1" />
<line x1="621.10" y1="268.40" x2="621.10" y2="247.50" stroke="#222" stroke-width="1.5" />
<polyline points="621.10,247.50 621.75,247.89 622.40,248.28 623.05,248.66 623.70,249.02 624.35,249.38 625.00,249.74 625.65,250.08 626.30,250.41 626.95,250.74 627.60,251.06 628.25,251.37 628.90,251.68 629.55,251.98 630.20,252.27 630.85,252.56 631.50,252.83 632.15,253.11 632.80,253.37 633.45,253.63 634.10,253.89 634.75,254.13 635.40,254.38 636.05,254.61 636.70,254.84 637.35,255.07 638.00,255.29 638.65,255.51 639.30,255.72 639.95,255.92 640.60,256.12 641.25,256.32 641.90,256.51 642.55,256.70 643.20,256.88 643.85,257.06 644.50,257.24 645.15,257.41 645.80,257.58 646.45,257.74 647.10,257.90" fill="none" stroke="#18acea" stroke-width="1.4" stroke-linejoin="round"/>
<line x1="647.10" y1="268.40" x2="647.10" y2="247.50" stroke="#222" stroke-width="1.5" />
<polyline points="647.10,247.50 647.76,247.90 648.42,248.28 649.08,248.66 649.74,249.03 650.40,249.39 651.06,249.75 651.72,250.09 652.38,250.43 653.04,250.76 653.70,251.08 654.36,251.39 655.02,251.70 655.68,252.00 656.34,252.29 657.00,252.57 657.66,252.85 658.32,253.12 658.98,253.39 659.64,253.65 660.30,253.90 660.96,254.15 661.62,254.39 662.28,254.63 662.94,254.86 663.60,255.09 664.26,255.31 664.92,255.52 665.58,255.73 666.24,255.94 666.90,256.14 667.56,256.33 668.22,256.52 668.88,256.71 669.54,256.89 670.20,257.07 670.86,257.24 671.52,257.41 672.18,257.58 672.84,257.74 673.50,257.90" fill="none" stroke="#18acea" stroke-width="1.4" stroke-linejoin="round"/>
<line x1="673.50" y1="268.40" x2="673.50" y2="247.50" stroke="#222" stroke-width="1.5" />
<polyline points="673.50,247.50 674.48,248.11 675.46,248.69 676.44,249.26 677.42,249.81 678.40,250.33 679.38,250.84 680.36,251.34 681.34,251.81 682.32,252.27 683.30,252.71 684.28,253.14 685.26,253.55 686.24,253.95 687.22,254.34 688.20,254.71 689.18,255.07 690.16,255.42 691.14,255.75 692.12,256.07 693.10,256.39 694.08,256.69 695.06,256.98 696.04,257.26 697.02,257.53 698.00,257.79 698.98,258.05 699.96,258.29 700.94,258.53 701.92,258.76 702.90,258.98 703.88,259.19 704.86,259.39 705.84,259.59 706.82,259.78 707.80,259.97 708.78,260.15 709.76,260.32 710.74,260.48 711.72,260.64 712.70,260.80" fill="none" stroke="#18acea" stroke-width="1.4" stroke-linejoin="round"/>
<line x1="712.70" y1="268.40" x2="712.70" y2="247.50" stroke="#222" stroke-width="1.5" />
<polyline points="712.70,247.50 713.33,247.89 713.97,248.27 714.60,248.65 715.23,249.01 715.86,249.37 716.50,249.72 717.13,250.06 717.76,250.39 718.39,250.72 719.03,251.03 719.66,251.35 720.29,251.65 720.92,251.95 721.56,252.24 722.19,252.52 722.82,252.80 723.45,253.07 724.09,253.34 724.72,253.60 725.35,253.86 725.98,254.10 726.62,254.35 727.25,254.58 727.88,254.82 728.51,255.04 729.14,255.27 729.78,255.48 730.41,255.69 731.04,255.90 731.67,256.10 732.31,256.30 732.94,256.50 733.57,256.69 734.21,256.87 734.84,257.05 735.47,257.23 736.10,257.40 736.74,257.57 737.37,257.74 738.00,257.90" fill="none" stroke="#18acea" stroke-width="1.4" stroke-linejoin="round"/>
<text x="441.80" y="114.00" font-family='"Liberation Sans", sans-serif' font-size="8.5" font-weight="normal" font-style="normal" text-anchor="start" fill="#222" textLength="13" lengthAdjust="spacingAndGlyphs" >Pre</text>
<text x="441.00" y="171.00" font-family='"Liberation Sans", sans-serif' font-size="8.5" font-weight="normal" font-style="normal" text-anchor="start" fill="#222" textLength="17" lengthAdjust="spacingAndGlyphs" >Post</text>
<text x="440.60" y="208.30" font-family='"Liberation Sans", sans-serif' font-size="8.5" font-weight="normal" font-style="normal" text-anchor="start" fill="#222" textLength="13" lengthAdjust="spacingAndGlyphs" >Pre</text>
<text x="436.00" y="218.00" font-family='"Liberation Sans", sans-serif' font-size="8.5" font-weight="normal" font-style="normal" text-anchor="start" fill="#222" textLength="21.5" lengthAdjust="spacingAndGlyphs" >Trace</text>
<text x="438.00" y="265.80" font-family='"Liberation Sans", sans-serif' font-size="8.5" font-weight="normal" font-style="normal" text-anchor="start" fill="#222" textLength="17" lengthAdjust="spacingAndGlyphs" >Post</text>
<text x="436.00" y="276.00" font-family='"Liberation Sans", sans-serif' font-size="8.5" font-weight="normal" font-style="normal" text-anchor="start" fill="#222" textLength="21.5" lengthAdjust="spacingAndGlyphs" >Trace</text>
<text x="482.40" y="83.80" font-family='"Liberation Sans", sans-serif' font-size="10.5" font-weight="bold" font-style="normal" text-anchor="start" fill="#222" textLength="10" lengthAdjust="spacingAndGlyphs" >(i)</text>
<text x="495.50" y="83.80" font-family='"Liberation Sans", sans-serif' font-size="10.5" font-weight="normal" font-style="normal" text-anchor="start" fill="#222" textLength="42.5" lengthAdjust="spacingAndGlyphs" >All-to-All</text>
<text x="604.40" y="83.80" font-family='"Liberation Sans", sans-serif' font-size="10.5" font-weight="bold" font-style="normal" text-anchor="start" fill="#222" textLength="13" lengthAdjust="spacingAndGlyphs" >(ii)</text>
<text x="620.50" y="83.80" font-family='"Liberation Sans", sans-serif' font-size="10.5" font-weight="normal" font-style="normal" text-anchor="start" fill="#222" textLength="88.8" lengthAdjust="spacingAndGlyphs" >Nearest Neighbor</text>
<text x="513.40" y="290.00" font-family='"Liberation Sans", sans-serif' font-size="15" font-weight="normal" font-style="normal" text-anchor="start" fill="#111" textLength="154" lengthAdjust="spacingAndGlyphs" stroke="#111" stroke-width="0.1">B. Interaction schemes</text>
<line x1="446.10" y1="303.60" x2="479.80" y2="303.60" stroke="#f01010" stroke-width="3.2" />
<line x1="446.10" y1="317.60" x2="479.80" y2="317.60" stroke="#10aaea" stroke-width="3.2" />
<text x="487.80" y="305.50" font-family='"Liberation Sans", sans-serif' font-size="10" font-weight="normal" font-style="normal" text-anchor="start" fill="#222" textLength="16.5" lengthAdjust="spacingAndGlyphs" stroke="#222" stroke-width="0.22">LTP</text>
<text x="487.80" y="324.00" font-family='"Liberation Sans", sans-serif' font-size="10" font-weight="normal" font-style="normal" text-anchor="start" fill="#222" textLength="18" lengthAdjust="spacingAndGlyphs" stroke="#222" stroke-width="0.22">LTD</text>
<line x1="35.90" y1="402.90" x2="209.50" y2="402.90" stroke="#222" stroke-width="1.5" />
<line x1="35.90" y1="478.30" x2="209.50" y2="478.30" stroke="#222" stroke-width="1.5" />
<text x="11.50" y="406.50" font-family='"Liberation Sans", sans-serif' font-size="10" font-weight="normal" font-style="normal" text-anchor="start" fill="#222" textLength="17.2" lengthAdjust="spacingAndGlyphs" >Pre</text>
<text x="10.00" y="482.50" font-family='"Liberation Sans", sans-serif' font-size="10" font-weight="normal" font-style="normal" text-anchor="start" fill="#222" textLength="21.6" lengthAdjust="spacingAndGlyphs" >Post</text>
<line x1="71.80" y1="402.90" x2="71.80" y2="375.00" stroke="#222" stroke-width="1.5" />
<polyline points="71.80,375.00 73.53,376.23 75.27,377.38 77.00,378.46 78.74,379.48 80.47,380.44 82.21,381.34 83.94,382.18 85.68,382.98 87.41,383.73 89.15,384.43 90.88,385.09 92.62,385.71 94.35,386.29 96.09,386.84 97.82,387.35 99.56,387.84 101.29,388.29 103.03,388.72 104.76,389.12 106.50,389.50 108.23,389.86 109.97,390.19 111.70,390.50 113.44,390.80 115.17,391.08 116.91,391.34 118.64,391.58 120.38,391.81 122.11,392.03 123.85,392.23 125.58,392.42 127.32,392.60 129.06,392.77 130.79,392.93 132.52,393.08 134.26,393.22 136.00,393.35 137.73,393.47 139.46,393.59 141.20,393.70" fill="none" stroke="#f41a1a" stroke-width="1.5" stroke-linejoin="round"/>
<line x1="141.20" y1="402.90" x2="141.20" y2="375.00" stroke="#222" stroke-width="1.5" />
<polyline points="141.20,375.00 142.94,376.23 144.69,377.39 146.44,378.48 148.18,379.50 149.92,380.46 151.67,381.36 153.41,382.21 155.16,383.00 156.91,383.75 158.65,384.45 160.39,385.11 162.14,385.74 163.88,386.32 165.63,386.87 167.38,387.38 169.12,387.86 170.86,388.32 172.61,388.75 174.35,389.15 176.10,389.52 177.84,389.88 179.59,390.21 181.33,390.52 183.08,390.82 184.82,391.09 186.57,391.35 188.31,391.60 190.06,391.83 191.81,392.04 193.55,392.24 195.29,392.43 197.04,392.61 198.78,392.78 200.53,392.94 202.28,393.08 204.02,393.22 205.76,393.35 207.51,393.48 209.25,393.59 211.00,393.70" fill="none" stroke="#f41a1a" stroke-width="1.5" stroke-linejoin="round"/>
<line x1="54.50" y1="478.30" x2="54.50" y2="450.50" stroke="#222" stroke-width="1.5" />
<polyline points="54.50,450.50 55.37,451.10 56.24,451.68 57.11,452.24 57.98,452.78 58.85,453.31 59.72,453.82 60.59,454.32 61.46,454.80 62.33,455.27 63.20,455.72 64.07,456.16 64.94,456.58 65.81,456.99 66.68,457.39 67.55,457.78 68.42,458.15 69.29,458.52 70.16,458.87 71.03,459.21 71.90,459.54 72.77,459.86 73.64,460.17 74.51,460.48 75.38,460.77 76.25,461.05 77.12,461.33 77.99,461.59 78.86,461.85 79.73,462.10 80.60,462.35 81.47,462.58 82.34,462.81 83.21,463.03 84.08,463.24 84.95,463.45 85.82,463.65 86.69,463.85 87.56,464.04 88.43,464.22 89.30,464.40" fill="none" stroke="#18acea" stroke-width="1.5" stroke-linejoin="round"/>
<line x1="89.30" y1="478.30" x2="89.30" y2="450.50" stroke="#222" stroke-width="1.5" />
<polyline points="89.30,450.50 90.17,451.10 91.03,451.68 91.90,452.24 92.77,452.78 93.64,453.31 94.50,453.82 95.37,454.31 96.24,454.80 97.11,455.26 97.97,455.71 98.84,456.15 99.71,456.58 100.58,456.99 101.44,457.39 102.31,457.77 103.18,458.15 104.05,458.51 104.91,458.86 105.78,459.21 106.65,459.54 107.52,459.86 108.38,460.17 109.25,460.47 110.12,460.76 110.99,461.05 111.85,461.32 112.72,461.59 113.59,461.85 114.46,462.10 115.32,462.34 116.19,462.58 117.06,462.81 117.93,463.03 118.80,463.24 119.66,463.45 120.53,463.65 121.40,463.85 122.27,464.04 123.13,464.22 124.00,464.40" fill="none" stroke="#18acea" stroke-width="1.5" stroke-linejoin="round"/>
<line x1="124.00" y1="478.30" x2="124.00" y2="450.50" stroke="#222" stroke-width="1.5" />
<polyline points="124.00,450.50 125.31,451.45 126.61,452.36 127.91,453.23 129.22,454.06 130.53,454.85 131.83,455.61 133.13,456.33 134.44,457.02 135.75,457.68 137.05,458.30 138.35,458.90 139.66,459.47 140.97,460.02 142.27,460.54 143.57,461.04 144.88,461.51 146.19,461.96 147.49,462.39 148.79,462.81 150.10,463.20 151.41,463.58 152.71,463.93 154.01,464.28 155.32,464.60 156.62,464.91 157.93,465.21 159.23,465.50 160.54,465.77 161.84,466.03 163.15,466.27 164.45,466.51 165.76,466.73 167.06,466.95 168.37,467.15 169.67,467.35 170.98,467.53 172.28,467.71 173.59,467.88 174.89,468.05 176.20,468.20" fill="none" stroke="#18acea" stroke-width="1.5" stroke-linejoin="round"/>
<line x1="176.20" y1="478.30" x2="176.20" y2="450.50" stroke="#222" stroke-width="1.5" />
<polyline points="176.20,450.50 177.07,451.10 177.94,451.68 178.81,452.24 179.68,452.78 180.55,453.31 181.42,453.82 182.29,454.32 183.16,454.80 184.03,455.27 184.90,455.72 185.77,456.16 186.64,456.58 187.51,456.99 188.38,457.39 189.25,457.78 190.12,458.15 190.99,458.52 191.86,458.87 192.73,459.21 193.60,459.54 194.47,459.86 195.34,460.17 196.21,460.48 197.08,460.77 197.95,461.05 198.82,461.33 199.69,461.59 200.56,461.85 201.43,462.10 202.30,462.35 203.17,462.58 204.04,462.81 204.91,463.03 205.78,463.24 206.65,463.45 207.52,463.65 208.39,463.85 209.26,464.04 210.13,464.22 211.00,464.40" fill="none" stroke="#18acea" stroke-width="1.5" stroke-linejoin="round"/>
<line x1="54.50" y1="402.90" x2="54.50" y2="450.50" stroke="#f41a1a" stroke-width="1.3" stroke-dasharray="1.3,1" />
<circle cx="54.50" cy="402.90" r="2.5" fill="#f41a1a"/>
<line x1="89.30" y1="384.50" x2="89.30" y2="450.50" stroke="#f41a1a" stroke-width="1.3" stroke-dasharray="1.3,1" />
<circle cx="89.30" cy="384.50" r="2.5" fill="#f41a1a"/>
<line x1="124.00" y1="392.80" x2="124.00" y2="450.50" stroke="#f41a1a" stroke-width="1.3" stroke-dasharray="1.3,1" />
<circle cx="124.00" cy="392.80" r="2.5" fill="#f41a1a"/>
<line x1="176.20" y1="390.00" x2="176.20" y2="450.50" stroke="#f41a1a" stroke-width="1.3" stroke-dasharray="1.3,1" />
<circle cx="176.20" cy="390.00" r="2.5" fill="#f41a1a"/>
<line x1="71.80" y1="402.90" x2="71.80" y2="459.40" stroke="#18acea" stroke-width="1.3" stroke-dasharray="1.3,1" />
<circle cx="71.80" cy="459.40" r="2.5" fill="#18acea"/>
<line x1="141.20" y1="402.90" x2="141.20" y2="459.40" stroke="#18acea" stroke-width="1.3" stroke-dasharray="1.3,1" />
<circle cx="141.20" cy="459.40" r="2.5" fill="#18acea"/>
<text x="99.00" y="512.70" font-family='"Liberation Sans", sans-serif' font-size="11" font-weight="bold" font-style="normal" text-anchor="start" fill="#222" textLength="10" lengthAdjust="spacingAndGlyphs" >(i)</text>
<text x="113.00" y="512.70" font-family='"Liberation Sans", sans-serif' font-size="11" font-weight="normal" font-style="normal" text-anchor="start" fill="#222" textLength="43.4" lengthAdjust="spacingAndGlyphs" stroke="#222" stroke-width="0.22">Post-Pre</text>
<line x1="213.90" y1="403.70" x2="388.60" y2="403.70" stroke="#222" stroke-width="1.5" />
<line x1="213.90" y1="478.20" x2="388.60" y2="478.20" stroke="#222" stroke-width="1.5" />
<line x1="250.00" y1="403.70" x2="250.00" y2="375.60" stroke="#222" stroke-width="1.5" />
<polyline points="250.00,375.60 251.74,376.83 253.47,377.99 255.20,379.08 256.94,380.10 258.68,381.07 260.41,381.97 262.14,382.82 263.88,383.62 265.62,384.37 267.35,385.08 269.08,385.74 270.82,386.37 272.56,386.95 274.29,387.50 276.02,388.02 277.76,388.51 279.50,388.96 281.23,389.39 282.96,389.80 284.70,390.18 286.44,390.54 288.17,390.87 289.90,391.19 291.64,391.48 293.38,391.76 295.11,392.02 296.84,392.27 298.58,392.50 300.31,392.72 302.05,392.92 303.78,393.12 305.52,393.30 307.25,393.47 308.99,393.63 310.72,393.77 312.46,393.92 314.19,394.05 315.93,394.17 317.66,394.29 319.40,394.40" fill="none" stroke="#111" stroke-width="1.5" stroke-linejoin="round"/>
<polyline points="250.00,390.50 251.74,391.67 253.47,392.78 255.20,393.81 256.94,394.79 258.68,395.71 260.41,396.57 262.14,397.38 263.88,398.14 265.62,398.85 267.35,399.52 269.08,400.16 270.82,400.75 272.56,401.31 274.29,401.83 276.02,402.33 277.76,402.79 279.50,403.22 281.23,403.63 282.96,404.02 284.70,404.38 286.44,404.72 288.17,405.04 289.90,405.34 291.64,405.62 293.38,405.89 295.11,406.14 296.84,406.37 298.58,406.59 300.31,406.80 302.05,406.99 303.78,407.18 305.52,407.35 307.25,407.51 308.99,407.66 310.72,407.80 312.46,407.94 314.19,408.07 315.93,408.18 317.66,408.30 319.40,408.40" fill="none" stroke="#111" stroke-width="1.4" stroke-dasharray="3.5,2" stroke-linejoin="round"/>
<line x1="319.40" y1="403.70" x2="319.40" y2="375.60" stroke="#222" stroke-width="1.5" />
<polyline points="319.40,375.60 321.13,376.83 322.86,377.99 324.59,379.07 326.32,380.10 328.05,381.06 329.78,381.96 331.51,382.81 333.24,383.61 334.97,384.36 336.70,385.06 338.43,385.73 340.16,386.35 341.89,386.94 343.62,387.49 345.35,388.01 347.08,388.49 348.81,388.95 350.54,389.38 352.27,389.79 354.00,390.17 355.73,390.52 357.46,390.86 359.19,391.18 360.92,391.47 362.65,391.75 364.38,392.02 366.11,392.26 367.84,392.49 369.57,392.71 371.30,392.92 373.03,393.11 374.76,393.29 376.49,393.46 378.22,393.62 379.95,393.77 381.68,393.91 383.41,394.05 385.14,394.17 386.87,394.29 388.60,394.40" fill="none" stroke="#111" stroke-width="1.5" stroke-linejoin="round"/>
<polyline points="319.40,390.50 321.13,391.67 322.86,392.77 324.59,393.81 326.32,394.78 328.05,395.70 329.78,396.56 331.51,397.36 333.24,398.12 334.97,398.84 336.70,399.51 338.43,400.14 340.16,400.74 341.89,401.29 343.62,401.82 345.35,402.31 347.08,402.78 348.81,403.21 350.54,403.62 352.27,404.01 354.00,404.37 355.73,404.71 357.46,405.03 359.19,405.33 360.92,405.61 362.65,405.88 364.38,406.13 366.11,406.36 367.84,406.59 369.57,406.79 371.30,406.99 373.03,407.17 374.76,407.34 376.49,407.51 378.22,407.66 379.95,407.80 381.68,407.94 383.41,408.06 385.14,408.18 386.87,408.29 388.60,408.40" fill="none" stroke="#111" stroke-width="1.4" stroke-dasharray="3.5,2" stroke-linejoin="round"/>
<line x1="246.40" y1="375.60" x2="246.40" y2="385.50" stroke="#222" stroke-width="1.2" />
<polygon points="243.60,384.5 249.20,384.5 246.40,389.5" fill="#111"/>
<line x1="316.60" y1="375.60" x2="316.60" y2="385.50" stroke="#222" stroke-width="1.2" />
<polygon points="313.80,384.5 319.40,384.5 316.60,389.5" fill="#111"/>
<line x1="232.40" y1="403.70" x2="232.40" y2="412.50" stroke="#222" stroke-width="1.2" />
<polygon points="229.6,411.5 235.2,411.5 232.4,416.5" fill="#111"/>
<text x="216.00" y="381.60" font-family='"Liberation Serif", serif' font-size="15.5" font-weight="normal" font-style="italic" text-anchor="start" fill="#222" >σ</text>
<text x="224.50" y="384.90" font-family='"Liberation Serif", serif' font-size="12" font-weight="normal" font-style="italic" text-anchor="start" fill="#222" textLength="16" lengthAdjust="spacingAndGlyphs" >tar</text>
<line x1="232.40" y1="418.20" x2="232.40" y2="450.10" stroke="#18acea" stroke-width="1.3" stroke-dasharray="1.3,1" />
<circle cx="232.40" cy="418.20" r="2.5" fill="#18acea"/>
<line x1="267.30" y1="398.00" x2="267.30" y2="450.10" stroke="#f41a1a" stroke-width="1.3" stroke-dasharray="1.3,1" />
<circle cx="267.30" cy="398.00" r="2.5" fill="#f41a1a"/>
<line x1="302.10" y1="408.80" x2="302.10" y2="450.10" stroke="#18acea" stroke-width="1.3" stroke-dasharray="1.3,1" />
<circle cx="302.10" cy="408.80" r="2.5" fill="#18acea"/>
<line x1="354.60" y1="404.50" x2="354.60" y2="450.10" stroke="#18acea" stroke-width="1.3" stroke-dasharray="1.3,1" />
<circle cx="354.60" cy="404.50" r="2.5" fill="#18acea"/>
<line x1="232.40" y1="478.20" x2="232.40" y2="450.10" stroke="#222" stroke-width="1.5" />
<line x1="267.30" y1="478.20" x2="267.30" y2="450.10" stroke="#222" stroke-width="1.5" />
<line x1="302.10" y1="478.20" x2="302.10" y2="450.10" stroke="#222" stroke-width="1.5" />
<line x1="354.60" y1="478.20" x2="354.60" y2="450.10" stroke="#222" stroke-width="1.5" />
<text x="257.80" y="510.80" font-family='"Liberation Sans", sans-serif' font-size="11" font-weight="bold" font-style="normal" text-anchor="start" fill="#222" textLength="13.5" lengthAdjust="spacingAndGlyphs" >(ii)</text>
<text x="274.50" y="510.80" font-family='"Liberation Sans", sans-serif' font-size="11" font-weight="normal" font-style="normal" text-anchor="start" fill="#222" textLength="58.3" lengthAdjust="spacingAndGlyphs" stroke="#222" stroke-width="0.22">Post-driven</text>
<line x1="392.70" y1="402.50" x2="567.00" y2="402.50" stroke="#222" stroke-width="1.5" />
<line x1="392.70" y1="477.60" x2="567.00" y2="477.60" stroke="#222" stroke-width="1.5" />
<line x1="428.10" y1="402.50" x2="428.10" y2="374.80" stroke="#222" stroke-width="1.5" />
<polyline points="428.10,374.80 429.84,376.08 431.59,377.28 433.33,378.40 435.07,379.46 436.81,380.46 438.56,381.39 440.30,382.27 442.04,383.10 443.78,383.87 445.53,384.60 447.27,385.29 449.01,385.93 450.75,386.53 452.50,387.10 454.24,387.64 455.98,388.14 457.72,388.61 459.47,389.05 461.21,389.47 462.95,389.86 464.69,390.23 466.44,390.57 468.18,390.90 469.92,391.20 471.66,391.49 473.41,391.76 475.15,392.01 476.89,392.25 478.63,392.47 480.38,392.68 482.12,392.88 483.86,393.07 485.60,393.24 487.35,393.41 489.09,393.56 490.83,393.70 492.57,393.84 494.31,393.97 496.06,394.09 497.80,394.20" fill="none" stroke="#f41a1a" stroke-width="1.5" stroke-linejoin="round"/>
<line x1="497.80" y1="402.50" x2="497.80" y2="374.80" stroke="#222" stroke-width="1.5" />
<polyline points="497.80,374.80 499.53,376.07 501.26,377.26 502.99,378.39 504.72,379.44 506.45,380.43 508.18,381.36 509.91,382.24 511.64,383.06 513.37,383.84 515.10,384.57 516.83,385.25 518.56,385.89 520.29,386.50 522.02,387.07 523.75,387.60 525.48,388.10 527.21,388.58 528.94,389.02 530.67,389.44 532.40,389.83 534.13,390.20 535.86,390.55 537.59,390.87 539.32,391.18 541.05,391.47 542.78,391.74 544.51,391.99 546.24,392.23 547.97,392.46 549.70,392.67 551.43,392.87 553.16,393.06 554.89,393.23 556.62,393.40 558.35,393.55 560.08,393.70 561.81,393.84 563.54,393.96 565.27,394.09 567.00,394.20" fill="none" stroke="#f41a1a" stroke-width="1.5" stroke-linejoin="round"/>
<line x1="410.80" y1="477.60" x2="410.80" y2="449.70" stroke="#222" stroke-width="1.5" />
<polyline points="410.80,449.70 411.67,450.31 412.55,450.90 413.42,451.48 414.29,452.04 415.16,452.58 416.04,453.10 416.91,453.61 417.78,454.10 418.65,454.57 419.52,455.04 420.40,455.48 421.27,455.92 422.14,456.34 423.01,456.75 423.89,457.14 424.76,457.52 425.63,457.90 426.50,458.26 427.38,458.61 428.25,458.94 429.12,459.27 430.00,459.59 430.87,459.90 431.74,460.20 432.61,460.49 433.49,460.77 434.36,461.04 435.23,461.30 436.10,461.56 436.98,461.80 437.85,462.04 438.72,462.28 439.59,462.50 440.46,462.72 441.34,462.93 442.21,463.14 443.08,463.34 443.95,463.53 444.83,463.72 445.70,463.90" fill="none" stroke="#18acea" stroke-width="1.5" stroke-linejoin="round"/>
<line x1="445.70" y1="477.60" x2="445.70" y2="449.70" stroke="#222" stroke-width="1.5" />
<polyline points="445.70,449.70 446.57,450.31 447.44,450.90 448.31,451.48 449.18,452.03 450.05,452.57 450.92,453.09 451.79,453.60 452.66,454.09 453.53,454.57 454.40,455.03 455.27,455.48 456.14,455.91 457.01,456.33 457.88,456.74 458.75,457.14 459.62,457.52 460.49,457.89 461.36,458.25 462.23,458.60 463.10,458.94 463.97,459.27 464.84,459.58 465.71,459.89 466.58,460.19 467.45,460.48 468.32,460.76 469.19,461.03 470.06,461.30 470.93,461.55 471.80,461.80 472.67,462.04 473.54,462.27 474.41,462.50 475.28,462.72 476.15,462.93 477.02,463.14 477.89,463.34 478.76,463.53 479.63,463.72 480.50,463.90" fill="none" stroke="#18acea" stroke-width="1.5" stroke-linejoin="round"/>
<line x1="480.50" y1="477.60" x2="480.50" y2="449.70" stroke="#222" stroke-width="1.5" />
<polyline points="480.50,449.70 481.82,450.66 483.14,451.57 484.47,452.44 485.79,453.27 487.11,454.06 488.44,454.82 489.76,455.54 491.08,456.22 492.40,456.88 493.73,457.51 495.05,458.10 496.37,458.67 497.69,459.21 499.01,459.73 500.34,460.23 501.66,460.70 502.98,461.15 504.31,461.57 505.63,461.98 506.95,462.37 508.27,462.74 509.59,463.10 510.92,463.44 512.24,463.76 513.56,464.07 514.88,464.36 516.21,464.64 517.53,464.91 518.85,465.16 520.17,465.41 521.50,465.64 522.82,465.86 524.14,466.07 525.47,466.27 526.79,466.46 528.11,466.65 529.43,466.82 530.75,466.99 532.08,467.15 533.40,467.30" fill="none" stroke="#18acea" stroke-width="1.5" stroke-linejoin="round"/>
<line x1="533.40" y1="477.60" x2="533.40" y2="449.70" stroke="#222" stroke-width="1.5" />
<polyline points="533.40,449.70 534.24,450.30 535.08,450.88 535.92,451.45 536.76,452.00 537.60,452.53 538.44,453.05 539.28,453.55 540.12,454.04 540.96,454.51 541.80,454.97 542.64,455.41 543.48,455.84 544.32,456.26 545.16,456.67 546.00,457.06 546.84,457.45 547.68,457.82 548.52,458.18 549.36,458.53 550.20,458.87 551.04,459.20 551.88,459.52 552.72,459.83 553.56,460.13 554.40,460.42 555.24,460.71 556.08,460.98 556.92,461.25 557.76,461.51 558.60,461.76 559.44,462.00 560.28,462.24 561.12,462.47 561.96,462.69 562.80,462.91 563.64,463.12 564.48,463.32 565.32,463.52 566.16,463.71 567.00,463.90" fill="none" stroke="#18acea" stroke-width="1.5" stroke-linejoin="round"/>
<line x1="480.50" y1="393.00" x2="480.50" y2="447.00" stroke="#f41a1a" stroke-width="1.3" stroke-dasharray="1.3,1" />
<circle cx="480.50" cy="393.00" r="2.5" fill="#f41a1a"/>
<line x1="497.80" y1="402.50" x2="497.80" y2="458.70" stroke="#18acea" stroke-width="1.3" stroke-dasharray="1.3,1" />
<circle cx="497.80" cy="458.70" r="2.5" fill="#18acea"/>
<line x1="497.80" y1="405.80" x2="483.00" y2="444.50" stroke="#111" stroke-width="1.2" stroke-dasharray="2.5,1.8" />
<polygon points="480.8,448.6 479.6,441.8 485.9,443.9" fill="#111"/>
<rect x="434.6" y="367.6" width="83.9" height="132.8" fill="none" stroke="#777" stroke-width="1" stroke-dasharray="4,2.5"/>
<text x="486.30" y="364.70" font-family='"Liberation Serif", serif' font-size="15" font-weight="normal" font-style="italic" text-anchor="start" fill="#222" >k</text>
<line x1="500.20" y1="358.90" x2="509.20" y2="358.90" stroke="#222" stroke-width="1.1" />
<line x1="500.20" y1="362.10" x2="509.20" y2="362.10" stroke="#222" stroke-width="1.1" />
<text x="514.60" y="364.70" font-family='"Liberation Serif", serif' font-size="15.5" font-weight="normal" font-style="normal" text-anchor="start" fill="#222" textLength="7" lengthAdjust="spacingAndGlyphs" stroke="#222" stroke-width="0.3">1</text>
<text x="437.00" y="493.80" font-family='"Liberation Serif", serif' font-size="14" font-weight="normal" font-style="italic" text-anchor="start" fill="#222" >k</text>
<text x="444.50" y="493.80" font-family='"Liberation Serif", serif' font-size="14" font-weight="normal" font-style="normal" text-anchor="start" fill="#222" textLength="14" lengthAdjust="spacingAndGlyphs" >-1</text>
<text x="476.30" y="493.80" font-family='"Liberation Serif", serif' font-size="14" font-weight="normal" font-style="italic" text-anchor="start" fill="#222" >k</text>
<text x="494.00" y="493.80" font-family='"Liberation Serif", serif' font-size="14" font-weight="normal" font-style="italic" text-anchor="start" fill="#222" >t</text>
<text x="449.70" y="513.00" font-family='"Liberation Sans", sans-serif' font-size="11" font-weight="bold" font-style="normal" text-anchor="start" fill="#222" textLength="16.5" lengthAdjust="spacingAndGlyphs" >(iii)</text>
<text x="469.50" y="513.00" font-family='"Liberation Sans", sans-serif' font-size="11" font-weight="normal" font-style="normal" text-anchor="start" fill="#222" textLength="52.5" lengthAdjust="spacingAndGlyphs" stroke="#222" stroke-width="0.22">Pre-driven</text>
<line x1="572.20" y1="402.50" x2="745.90" y2="402.50" stroke="#222" stroke-width="1.5" />
<line x1="572.20" y1="477.20" x2="745.90" y2="477.20" stroke="#222" stroke-width="1.5" />
<line x1="607.60" y1="402.50" x2="607.60" y2="374.40" stroke="#222" stroke-width="1.5" />
<polyline points="607.60,374.40 609.35,375.28 611.09,376.11 612.84,376.89 614.58,377.62 616.33,378.31 618.07,378.96 619.82,379.56 621.56,380.14 623.31,380.67 625.05,381.17 626.79,381.65 628.54,382.09 630.28,382.51 632.03,382.90 633.77,383.27 635.52,383.62 637.26,383.94 639.01,384.25 640.75,384.54 642.50,384.81 644.25,385.06 645.99,385.30 647.74,385.52 649.48,385.73 651.23,385.93 652.97,386.12 654.72,386.29 656.46,386.46 658.21,386.61 659.95,386.76 661.69,386.89 663.44,387.02 665.18,387.14 666.93,387.25 668.67,387.36 670.42,387.46 672.16,387.55 673.91,387.64 675.65,387.72 677.40,387.80" fill="none" stroke="#18acea" stroke-width="1.5" stroke-linejoin="round"/>
<polyline points="607.60,374.40 609.35,375.66 611.09,376.84 612.84,377.95 614.58,378.99 616.33,379.97 618.07,380.90 619.82,381.76 621.56,382.57 623.31,383.34 625.05,384.06 626.79,384.73 628.54,385.36 630.28,385.96 632.03,386.52 633.77,387.05 635.52,387.54 637.26,388.00 639.01,388.44 640.75,388.85 642.50,389.23 644.25,389.60 645.99,389.94 647.74,390.26 649.48,390.56 651.23,390.84 652.97,391.10 654.72,391.35 656.46,391.59 658.21,391.80 659.95,392.01 661.69,392.21 663.44,392.39 665.18,392.56 666.93,392.72 668.67,392.87 670.42,393.01 672.16,393.15 673.91,393.27 675.65,393.39 677.40,393.50" fill="none" stroke="#f41a1a" stroke-width="1.5" stroke-linejoin="round"/>
<line x1="677.40" y1="402.50" x2="677.40" y2="374.40" stroke="#222" stroke-width="1.5" />
<polyline points="677.40,374.40 679.09,375.26 680.78,376.07 682.47,376.84 684.16,377.56 685.85,378.23 687.54,378.87 689.23,379.47 690.92,380.04 692.61,380.57 694.30,381.07 695.99,381.54 697.68,381.98 699.37,382.40 701.06,382.79 702.75,383.16 704.44,383.51 706.13,383.84 707.82,384.15 709.51,384.44 711.20,384.72 712.89,384.97 714.58,385.22 716.27,385.44 717.96,385.66 719.65,385.86 721.34,386.05 723.03,386.23 724.72,386.40 726.41,386.56 728.10,386.71 729.79,386.85 731.48,386.98 733.17,387.11 734.86,387.23 736.55,387.34 738.24,387.44 739.93,387.54 741.62,387.63 743.31,387.72 745.00,387.80" fill="none" stroke="#18acea" stroke-width="1.5" stroke-linejoin="round"/>
<polyline points="677.40,374.40 679.09,375.63 680.78,376.79 682.47,377.87 684.16,378.90 685.85,379.86 687.54,380.77 689.23,381.63 690.92,382.43 692.61,383.19 694.30,383.91 695.99,384.58 697.68,385.21 699.37,385.80 701.06,386.37 702.75,386.89 704.44,387.39 706.13,387.86 707.82,388.30 709.51,388.71 711.20,389.10 712.89,389.47 714.58,389.82 716.27,390.14 717.96,390.45 719.65,390.74 721.34,391.01 723.03,391.26 724.72,391.51 726.41,391.73 728.10,391.95 729.79,392.15 731.48,392.34 733.17,392.51 734.86,392.68 736.55,392.84 738.24,392.99 739.93,393.13 741.62,393.26 743.31,393.38 745.00,393.50" fill="none" stroke="#f41a1a" stroke-width="1.5" stroke-linejoin="round"/>
<line x1="590.20" y1="477.20" x2="590.20" y2="449.50" stroke="#222" stroke-width="1.5" />
<polyline points="590.20,449.50 591.07,450.11 591.95,450.70 592.82,451.28 593.69,451.84 594.56,452.38 595.44,452.90 596.31,453.41 597.18,453.90 598.05,454.37 598.93,454.84 599.80,455.28 600.67,455.72 601.54,456.14 602.42,456.55 603.29,456.94 604.16,457.32 605.03,457.70 605.91,458.06 606.78,458.41 607.65,458.74 608.52,459.07 609.39,459.39 610.27,459.70 611.14,460.00 612.01,460.29 612.88,460.57 613.76,460.84 614.63,461.10 615.50,461.36 616.38,461.60 617.25,461.84 618.12,462.08 618.99,462.30 619.87,462.52 620.74,462.73 621.61,462.94 622.48,463.14 623.36,463.33 624.23,463.52 625.10,463.70" fill="none" stroke="#18acea" stroke-width="1.5" stroke-linejoin="round"/>
<polyline points="590.20,449.50 591.07,449.95 591.95,450.38 592.82,450.80 593.69,451.21 594.56,451.61 595.44,451.99 596.31,452.36 597.18,452.72 598.05,453.07 598.93,453.41 599.80,453.74 600.67,454.05 601.54,454.36 602.42,454.66 603.29,454.95 604.16,455.23 605.03,455.50 605.91,455.77 606.78,456.02 607.65,456.27 608.52,456.51 609.39,456.74 610.27,456.97 611.14,457.19 612.01,457.40 612.88,457.60 613.76,457.80 614.63,458.00 615.50,458.18 616.38,458.37 617.25,458.54 618.12,458.71 618.99,458.88 619.87,459.04 620.74,459.19 621.61,459.34 622.48,459.49 623.36,459.63 624.23,459.77 625.10,459.90" fill="none" stroke="#f41a1a" stroke-width="1.5" stroke-linejoin="round"/>
<line x1="625.10" y1="477.20" x2="625.10" y2="449.50" stroke="#222" stroke-width="1.5" />
<polyline points="625.10,449.50 625.98,450.11 626.85,450.71 627.73,451.28 628.60,451.84 629.48,452.38 630.35,452.90 631.23,453.41 632.10,453.90 632.98,454.38 633.85,454.84 634.73,455.29 635.60,455.72 636.48,456.14 637.35,456.55 638.23,456.95 639.10,457.33 639.98,457.70 640.85,458.06 641.73,458.41 642.60,458.75 643.48,459.08 644.35,459.39 645.23,459.70 646.10,460.00 646.98,460.29 647.85,460.57 648.73,460.84 649.60,461.11 650.48,461.36 651.35,461.61 652.23,461.85 653.10,462.08 653.98,462.31 654.85,462.52 655.73,462.74 656.60,462.94 657.48,463.14 658.35,463.33 659.23,463.52 660.10,463.70" fill="none" stroke="#18acea" stroke-width="1.5" stroke-linejoin="round"/>
<polyline points="625.10,449.50 625.98,449.92 626.85,450.32 627.73,450.72 628.60,451.10 629.48,451.47 630.35,451.82 631.23,452.17 632.10,452.51 632.98,452.83 633.85,453.15 634.73,453.45 635.60,453.75 636.48,454.04 637.35,454.32 638.23,454.59 639.10,454.85 639.98,455.10 640.85,455.35 641.73,455.59 642.60,455.82 643.48,456.04 644.35,456.26 645.23,456.47 646.10,456.67 646.98,456.87 647.85,457.06 648.73,457.25 649.60,457.43 650.48,457.60 651.35,457.77 652.23,457.93 653.10,458.09 653.98,458.25 654.85,458.40 655.73,458.54 656.60,458.68 657.48,458.82 658.35,458.95 659.23,459.08 660.10,459.20" fill="none" stroke="#f41a1a" stroke-width="1.5" stroke-linejoin="round"/>
<line x1="660.10" y1="477.20" x2="660.10" y2="449.50" stroke="#222" stroke-width="1.5" />
<polyline points="660.10,449.50 661.41,450.44 662.72,451.35 664.02,452.21 665.33,453.03 666.64,453.81 667.95,454.56 669.25,455.27 670.56,455.95 671.87,456.60 673.17,457.22 674.48,457.81 675.79,458.38 677.10,458.92 678.40,459.43 679.71,459.92 681.02,460.39 682.33,460.84 683.63,461.27 684.94,461.67 686.25,462.06 687.56,462.43 688.87,462.79 690.17,463.13 691.48,463.45 692.79,463.76 694.10,464.05 695.40,464.33 696.71,464.60 698.02,464.85 699.33,465.10 700.63,465.33 701.94,465.55 703.25,465.76 704.55,465.97 705.86,466.16 707.17,466.34 708.48,466.52 709.78,466.69 711.09,466.85 712.40,467.00" fill="none" stroke="#18acea" stroke-width="1.5" stroke-linejoin="round"/>
<polyline points="660.10,449.50 661.41,450.17 662.72,450.81 664.02,451.42 665.33,452.00 666.64,452.55 667.95,453.08 669.25,453.59 670.56,454.07 671.87,454.53 673.17,454.97 674.48,455.39 675.79,455.79 677.10,456.17 678.40,456.54 679.71,456.89 681.02,457.22 682.33,457.53 683.63,457.84 684.94,458.13 686.25,458.40 687.56,458.66 688.87,458.92 690.17,459.16 691.48,459.38 692.79,459.60 694.10,459.81 695.40,460.01 696.71,460.20 698.02,460.38 699.33,460.55 700.63,460.72 701.94,460.87 703.25,461.02 704.55,461.17 705.86,461.30 707.17,461.43 708.48,461.56 709.78,461.68 711.09,461.79 712.40,461.90" fill="none" stroke="#f41a1a" stroke-width="1.5" stroke-linejoin="round"/>
<line x1="712.40" y1="477.20" x2="712.40" y2="449.50" stroke="#222" stroke-width="1.5" />
<polyline points="712.40,449.50 713.31,450.16 714.23,450.79 715.14,451.41 716.06,452.00 716.98,452.58 717.89,453.14 718.80,453.68 719.72,454.20 720.63,454.71 721.55,455.19 722.47,455.67 723.38,456.13 724.29,456.57 725.21,457.00 726.12,457.42 727.04,457.82 727.96,458.21 728.87,458.58 729.78,458.95 730.70,459.30 731.62,459.64 732.53,459.97 733.44,460.29 734.36,460.60 735.27,460.90 736.19,461.19 737.11,461.47 738.02,461.75 738.93,462.01 739.85,462.26 740.76,462.51 741.68,462.75 742.60,462.98 743.51,463.20 744.42,463.42 745.34,463.63 746.25,463.83 747.17,464.03 748.09,464.22 749.00,464.40" fill="none" stroke="#18acea" stroke-width="1.5" stroke-linejoin="round"/>
<polyline points="712.40,449.50 713.31,449.96 714.23,450.40 715.14,450.83 716.06,451.25 716.98,451.65 717.89,452.04 718.80,452.42 719.72,452.78 720.63,453.13 721.55,453.47 722.47,453.81 723.38,454.13 724.29,454.43 725.21,454.73 726.12,455.02 727.04,455.31 727.96,455.58 728.87,455.84 729.78,456.09 730.70,456.34 731.62,456.58 732.53,456.81 733.44,457.03 734.36,457.25 735.27,457.46 736.19,457.66 737.11,457.86 738.02,458.05 738.93,458.23 739.85,458.41 740.76,458.58 741.68,458.75 742.60,458.91 743.51,459.06 744.42,459.22 745.34,459.36 746.25,459.50 747.17,459.64 748.09,459.77 749.00,459.90" fill="none" stroke="#f41a1a" stroke-width="1.5" stroke-linejoin="round"/>
<line x1="625.00" y1="384.00" x2="625.00" y2="459.90" stroke="#f41a1a" stroke-width="1.3" stroke-dasharray="1.3,1" />
<circle cx="625.00" cy="383.90" r="2.5" fill="#f41a1a"/>
<circle cx="625.10" cy="459.90" r="2.5" fill="#f41a1a"/>
<line x1="677.50" y1="387.80" x2="677.50" y2="459.20" stroke="#18acea" stroke-width="1.3" stroke-dasharray="1.3,1" />
<circle cx="677.40" cy="387.80" r="2.5" fill="#18acea"/>
<circle cx="677.50" cy="459.20" r="2.5" fill="#18acea"/>
<rect x="613.4" y="369.2" width="25.5" height="124.3" fill="none" stroke="#e44" stroke-width="1" stroke-dasharray="4,2"/>
<rect x="665.3" y="369.2" width="25.2" height="124.3" fill="none" stroke="#7fd0f0" stroke-width="1" stroke-dasharray="4,2"/>
<text x="614.60" y="367.10" font-family='"Liberation Sans", sans-serif' font-size="10.5" font-weight="normal" font-style="normal" text-anchor="start" fill="#222" textLength="21.4" lengthAdjust="spacingAndGlyphs" >LTP</text>
<text x="667.00" y="367.10" font-family='"Liberation Sans", sans-serif' font-size="10.5" font-weight="normal" font-style="normal" text-anchor="start" fill="#222" textLength="22.8" lengthAdjust="spacingAndGlyphs" >LTD</text>
<text x="624.00" y="491.00" font-family='"Liberation Serif", serif' font-size="14" font-weight="normal" font-style="italic" text-anchor="middle" fill="#222" >t</text>
<text x="677.00" y="491.00" font-family='"Liberation Serif", serif' font-size="14" font-weight="normal" font-style="italic" text-anchor="middle" fill="#222" >t</text>
<text x="618.40" y="513.80" font-family='"Liberation Sans", sans-serif' font-size="11" font-weight="bold" font-style="normal" text-anchor="start" fill="#222" textLength="15.5" lengthAdjust="spacingAndGlyphs" >(iv)</text>
<text x="637.50" y="513.80" font-family='"Liberation Sans", sans-serif' font-size="11" font-weight="normal" font-style="normal" text-anchor="start" fill="#222" textLength="33.9" lengthAdjust="spacingAndGlyphs" stroke="#222" stroke-width="0.22">Triplet</text>
<text x="328.90" y="537.40" font-family='"Liberation Sans", sans-serif' font-size="15" font-weight="normal" font-style="normal" text-anchor="start" fill="#111" textLength="115.4" lengthAdjust="spacingAndGlyphs" stroke="#111" stroke-width="0.1">C. Trigger criteria</text></svg></body></html>
